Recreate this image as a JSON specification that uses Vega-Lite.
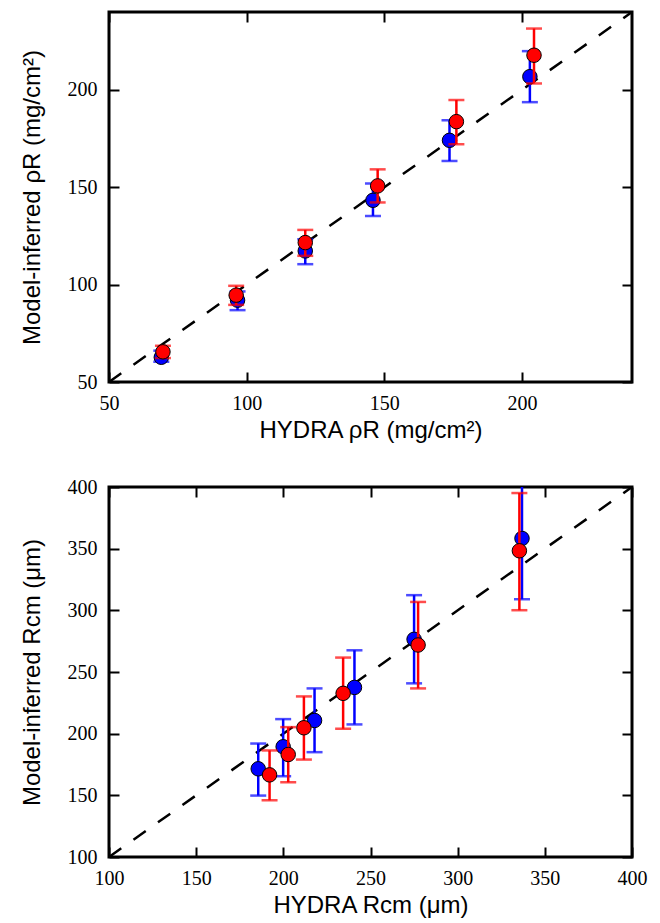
{
  "$schema": "https://vega.github.io/schema/vega-lite/v6.json",
  "padding": {"left": 18, "top": 9, "right": 0, "bottom": 0},
  "background": "white",
  "datasets": {
    "top": [
      {"s": "blue", "x": 69.0, "y": 62.7, "lo": 60.4, "hi": 66.1},
      {"s": "blue", "x": 96.7, "y": 92.0, "lo": 86.9, "hi": 96.5},
      {"s": "blue", "x": 121.3, "y": 117.3, "lo": 110.5, "hi": 123.3},
      {"s": "blue", "x": 145.9, "y": 143.3, "lo": 135.3, "hi": 151.9},
      {"s": "blue", "x": 173.7, "y": 174.1, "lo": 163.5, "hi": 184.4},
      {"s": "blue", "x": 202.9, "y": 206.8, "lo": 193.7, "hi": 219.9},
      {"s": "red", "x": 69.6, "y": 65.5, "lo": 62.3, "hi": 68.6},
      {"s": "red", "x": 96.2, "y": 94.6, "lo": 89.6, "hi": 99.4},
      {"s": "red", "x": 121.3, "y": 121.6, "lo": 114.8, "hi": 128.1},
      {"s": "red", "x": 147.6, "y": 150.7, "lo": 142.2, "hi": 159.2},
      {"s": "red", "x": 176.2, "y": 183.7, "lo": 172.1, "hi": 194.8},
      {"s": "red", "x": 204.4, "y": 217.8, "lo": 203.3, "hi": 231.5}
    ],
    "bottom": [
      {"s": "blue", "x": 185.6, "y": 171.5, "lo": 149.8, "hi": 192.0},
      {"s": "blue", "x": 199.9, "y": 189.4, "lo": 165.5, "hi": 211.8},
      {"s": "blue", "x": 217.9, "y": 210.7, "lo": 185.0, "hi": 236.7},
      {"s": "blue", "x": 240.8, "y": 237.5, "lo": 207.5, "hi": 267.6},
      {"s": "blue", "x": 275.0, "y": 276.5, "lo": 240.8, "hi": 312.3},
      {"s": "blue", "x": 336.9, "y": 358.3, "lo": 309.0, "hi": 407.0},
      {"s": "red", "x": 192.1, "y": 166.6, "lo": 146.0, "hi": 186.4},
      {"s": "red", "x": 202.8, "y": 183.1, "lo": 160.6, "hi": 205.3},
      {"s": "red", "x": 211.8, "y": 204.8, "lo": 179.0, "hi": 230.2},
      {"s": "red", "x": 234.3, "y": 232.7, "lo": 204.0, "hi": 261.7},
      {"s": "red", "x": 277.3, "y": 271.9, "lo": 236.7, "hi": 306.8},
      {"s": "red", "x": 335.4, "y": 348.3, "lo": 300.1, "hi": 395.1}
    ],
    "diagTop": [{"x": 50, "y": 50}, {"x": 240, "y": 240}],
    "diagBottom": [{"x": 100, "y": 100}, {"x": 400, "y": 400}]
  },
  "vconcat": [
    {
      "width": 523,
      "height": 370,
      "data": {"name": "top"},
      "layer": [
        {
          "data": {"name": "diagTop"},
          "mark": {"type": "line", "color": "black", "strokeDash": [15, 15], "strokeWidth": 2.5, "clip": true},
          "encoding": {
            "x": {"field": "x", "type": "quantitative", "scale": {"domain": [50, 240], "nice": false, "zero": false},
              "axis": {"orient": "bottom", "values": [50, 100, 150, 200], "ticks": false, "tickSize": 0, "labelPadding": 11, "title": "HYDRA ρR (mg/cm²)", "titlePadding": 5}},
            "y": {"field": "y", "type": "quantitative", "scale": {"domain": [50, 240], "nice": false, "zero": false},
              "axis": {"orient": "left", "values": [50, 100, 150, 200], "ticks": false, "tickSize": 0, "labelPadding": 12, "title": "Model-inferred ρR (mg/cm²)", "titlePadding": 23}}
          }
        },
        {
          "transform": [{"filter": "datum.s == 'blue'"}],
          "mark": {"type": "rule", "color": "#0000ff", "strokeWidth": 2.5, "clip": true},
          "encoding": {
            "x": {"field": "x", "type": "quantitative", "axis": {"orient": "top", "values": [50, 100, 150, 200], "ticks": true, "tickColor": "#000000", "tickOpacity": 1, "tickWidth": 2, "zindex": 2, "offset": -10, "tickSize": 10, "labels": false, "title": null}},
            "y": {"field": "lo", "type": "quantitative", "axis": {"orient": "right", "values": [50, 100, 150, 200], "ticks": true, "tickColor": "#000000", "tickOpacity": 1, "tickWidth": 2, "zindex": 2, "offset": -10, "tickSize": 10, "labels": false, "title": null}},
            "y2": {"field": "hi"}
          }
        },
        {
          "transform": [{"filter": "datum.s == 'blue'"}, {"fold": ["lo", "hi"], "as": ["k", "v"]}],
          "mark": {"type": "tick", "orient": "horizontal", "color": "#0000ff", "size": 16, "thickness": 2.5, "clip": true},
          "encoding": {
            "x": {"field": "x", "type": "quantitative", "axis": {"orient": "bottom", "values": [50, 100, 150, 200], "ticks": true, "tickColor": "#000000", "tickOpacity": 1, "tickWidth": 2, "zindex": 2, "offset": -10, "tickSize": 10, "labels": false, "title": null}},
            "y": {"field": "v", "type": "quantitative", "axis": {"orient": "left", "values": [50, 100, 150, 200], "ticks": true, "tickColor": "#000000", "tickOpacity": 1, "tickWidth": 2, "zindex": 2, "offset": -10, "tickSize": 10, "labels": false, "title": null}}
          }
        },
        {
          "transform": [{"filter": "datum.s == 'blue'"}],
          "mark": {"type": "point", "shape": "circle", "filled": true, "fill": "#0000ff", "stroke": "black", "strokeWidth": 1, "size": 210, "opacity": 1},
          "encoding": {
            "x": {"field": "x", "type": "quantitative", "axis": null},
            "y": {"field": "y", "type": "quantitative", "axis": null}
          }
        },
        {
          "transform": [{"filter": "datum.s == 'red'"}],
          "mark": {"type": "rule", "color": "#ff0000", "strokeWidth": 2.5, "clip": true},
          "encoding": {
            "x": {"field": "x", "type": "quantitative", "axis": null},
            "y": {"field": "lo", "type": "quantitative", "axis": null},
            "y2": {"field": "hi"}
          }
        },
        {
          "transform": [{"filter": "datum.s == 'red'"}, {"fold": ["lo", "hi"], "as": ["k", "v"]}],
          "mark": {"type": "tick", "orient": "horizontal", "color": "#ff0000", "size": 16, "thickness": 2.5, "clip": true},
          "encoding": {
            "x": {"field": "x", "type": "quantitative", "axis": null},
            "y": {"field": "v", "type": "quantitative", "axis": null}
          }
        },
        {
          "transform": [{"filter": "datum.s == 'red'"}],
          "mark": {"type": "point", "shape": "circle", "filled": true, "fill": "#ff0000", "stroke": "black", "strokeWidth": 1, "size": 210, "opacity": 1},
          "encoding": {
            "x": {"field": "x", "type": "quantitative", "axis": null},
            "y": {"field": "y", "type": "quantitative", "axis": null}
          }
        }
      ],
      "resolve": {"axis": {"x": "independent", "y": "independent"}}
    },
    {
      "width": 523,
      "height": 370,
      "data": {"name": "bottom"},
      "layer": [
        {
          "data": {"name": "diagBottom"},
          "mark": {"type": "line", "color": "black", "strokeDash": [15, 15], "strokeWidth": 2.5, "clip": true},
          "encoding": {
            "x": {"field": "x", "type": "quantitative", "scale": {"domain": [100, 400], "nice": false, "zero": false},
              "axis": {"orient": "bottom", "values": [100, 150, 200, 250, 300, 350, 400], "ticks": false, "tickSize": 0, "labelPadding": 11, "title": "HYDRA Rcm (μm)", "titlePadding": 5}},
            "y": {"field": "y", "type": "quantitative", "scale": {"domain": [100, 400], "nice": false, "zero": false},
              "axis": {"orient": "left", "values": [100, 150, 200, 250, 300, 350, 400], "ticks": false, "tickSize": 0, "labelPadding": 12, "title": "Model-inferred Rcm (μm)", "titlePadding": 23}}
          }
        },
        {
          "transform": [{"filter": "datum.s == 'blue'"}],
          "mark": {"type": "rule", "color": "#0000ff", "strokeWidth": 2.5, "clip": true},
          "encoding": {
            "x": {"field": "x", "type": "quantitative", "axis": {"orient": "top", "values": [100, 150, 200, 250, 300, 350, 400], "ticks": true, "tickColor": "#000000", "tickOpacity": 1, "tickWidth": 2, "zindex": 2, "offset": -10, "tickSize": 10, "labels": false, "title": null}},
            "y": {"field": "lo", "type": "quantitative", "axis": {"orient": "right", "values": [100, 150, 200, 250, 300, 350, 400], "ticks": true, "tickColor": "#000000", "tickOpacity": 1, "tickWidth": 2, "zindex": 2, "offset": -10, "tickSize": 10, "labels": false, "title": null}},
            "y2": {"field": "hi"}
          }
        },
        {
          "transform": [{"filter": "datum.s == 'blue'"}, {"fold": ["lo", "hi"], "as": ["k", "v"]}],
          "mark": {"type": "tick", "orient": "horizontal", "color": "#0000ff", "size": 16, "thickness": 2.5, "clip": true},
          "encoding": {
            "x": {"field": "x", "type": "quantitative", "axis": {"orient": "bottom", "values": [100, 150, 200, 250, 300, 350, 400], "ticks": true, "tickColor": "#000000", "tickOpacity": 1, "tickWidth": 2, "zindex": 2, "offset": -10, "tickSize": 10, "labels": false, "title": null}},
            "y": {"field": "v", "type": "quantitative", "axis": {"orient": "left", "values": [100, 150, 200, 250, 300, 350, 400], "ticks": true, "tickColor": "#000000", "tickOpacity": 1, "tickWidth": 2, "zindex": 2, "offset": -10, "tickSize": 10, "labels": false, "title": null}}
          }
        },
        {
          "transform": [{"filter": "datum.s == 'blue'"}],
          "mark": {"type": "point", "shape": "circle", "filled": true, "fill": "#0000ff", "stroke": "black", "strokeWidth": 1, "size": 210, "opacity": 1},
          "encoding": {
            "x": {"field": "x", "type": "quantitative", "axis": null},
            "y": {"field": "y", "type": "quantitative", "axis": null}
          }
        },
        {
          "transform": [{"filter": "datum.s == 'red'"}],
          "mark": {"type": "rule", "color": "#ff0000", "strokeWidth": 2.5, "clip": true},
          "encoding": {
            "x": {"field": "x", "type": "quantitative", "axis": null},
            "y": {"field": "lo", "type": "quantitative", "axis": null},
            "y2": {"field": "hi"}
          }
        },
        {
          "transform": [{"filter": "datum.s == 'red'"}, {"fold": ["lo", "hi"], "as": ["k", "v"]}],
          "mark": {"type": "tick", "orient": "horizontal", "color": "#ff0000", "size": 16, "thickness": 2.5, "clip": true},
          "encoding": {
            "x": {"field": "x", "type": "quantitative", "axis": null},
            "y": {"field": "v", "type": "quantitative", "axis": null}
          }
        },
        {
          "transform": [{"filter": "datum.s == 'red'"}],
          "mark": {"type": "point", "shape": "circle", "filled": true, "fill": "#ff0000", "stroke": "black", "strokeWidth": 1, "size": 210, "opacity": 1},
          "encoding": {
            "x": {"field": "x", "type": "quantitative", "axis": null},
            "y": {"field": "y", "type": "quantitative", "axis": null}
          }
        }
      ],
      "resolve": {"axis": {"x": "independent", "y": "independent"}}
    }
  ],
  "spacing": 105,
  "bounds": "flush",
  "config": {
    "view": {"stroke": "black", "strokeWidth": 3},
    "axis": {
      "domain": false,
      "grid": false,
      "labelFont": "Liberation Serif",
      "labelFontSize": 20,
      "labelColor": "black",
      "labelFlush": false,
      "labelOverlap": false,
      "titleFont": "Liberation Sans",
      "titleFontSize": 24,
      "titleFontWeight": "normal",
      "titleColor": "black"
    }
  }
}
